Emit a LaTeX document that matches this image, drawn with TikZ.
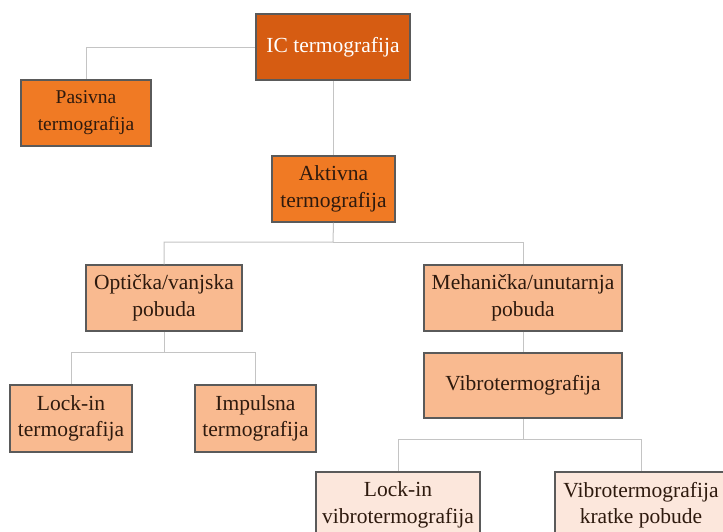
\documentclass[tikz,border=0pt]{standalone}
\usepackage{fontspec}
\setmainfont{Liberation Serif}
\definecolor{cTop}{HTML}{D65C12}
\definecolor{cMid}{HTML}{F07A24}
\definecolor{cLow}{HTML}{F9BA90}
\definecolor{cBot}{HTML}{FCE7DC}
\definecolor{cEdge}{HTML}{5A5A5A}
\definecolor{cLine}{HTML}{C4C4C4}
\definecolor{cText}{HTML}{2E1A0E}
\begin{document}
\begin{tikzpicture}[x=1pt,y=-1pt,
  box/.style={draw=cEdge, line width=1.5pt, rectangle, minimum height=66pt, inner sep=0pt,
    align=center, text=cText, font=\fontsize{21.5}{26.5}\selectfont},
  topbox/.style={box, fill=cTop, text=white, line width=2.2pt},
  midbox/.style={box, fill=cMid},
  lowbox/.style={box, fill=cLow},
  botbox/.style={box, fill=cBot},
  conn/.style={draw=cLine, line width=1pt}]
\useasboundingbox (0,0) rectangle (723,531);
\clip (0,0) rectangle (723,531);
\fill[white] (0,0) rectangle (723,531);

\coordinate (j1) at (333,242);
\coordinate (j2) at (164,352);
\coordinate (j3) at (523,439);

\node[topbox, minimum width=154pt] (ic) at (333,47) {IC termografija};
\node[midbox, minimum width=130pt, font=\fontsize{19.5}{27}\selectfont] (pas) at (86,113) {Pasivna\\termografija};
\node[midbox, minimum width=123pt] (akt) at (333.5,189) {Aktivna\\termografija};
\node[lowbox, minimum width=156pt] (opt) at (164,298) {Optička/vanjska\\pobuda};
\node[lowbox, minimum width=198pt] (meh) at (523,298) {Mehanička/unutarnja\\pobuda};
\node[lowbox, minimum width=122pt, minimum height=67pt] (lock) at (71,418.5) {Lock-in\\termografija};
\node[lowbox, minimum width=121pt, minimum height=67pt] (imp) at (255.5,418.5) {Impulsna\\termografija};
\node[lowbox, minimum width=198pt, minimum height=65pt] (vib) at (523,385.5) {Vibrotermografija};
\node[botbox, minimum width=164pt] (lvib) at (398,505) {Lock-in\\vibrotermografija};
\node[botbox, minimum width=172pt] (kvib) at (641,505) {Vibrotermografija\\kratke pobude};

\draw[conn] (ic.west) -| (pas.north);
\draw[conn] (ic.south) -- (ic.south |- akt.north);
\draw[conn] (akt.south) -- (j1) -| (opt.north);
\draw[conn] (j1) -| (meh.north);
\draw[conn] (opt.south) -- (j2) -| (lock.north);
\draw[conn] (j2) -| (imp.north);
\draw[conn] (meh.south) -- (vib.north);
\draw[conn] (vib.south) -- (j3) -| (lvib.north);
\draw[conn] (j3) -| (kvib.north);
\end{tikzpicture}
\end{document}
